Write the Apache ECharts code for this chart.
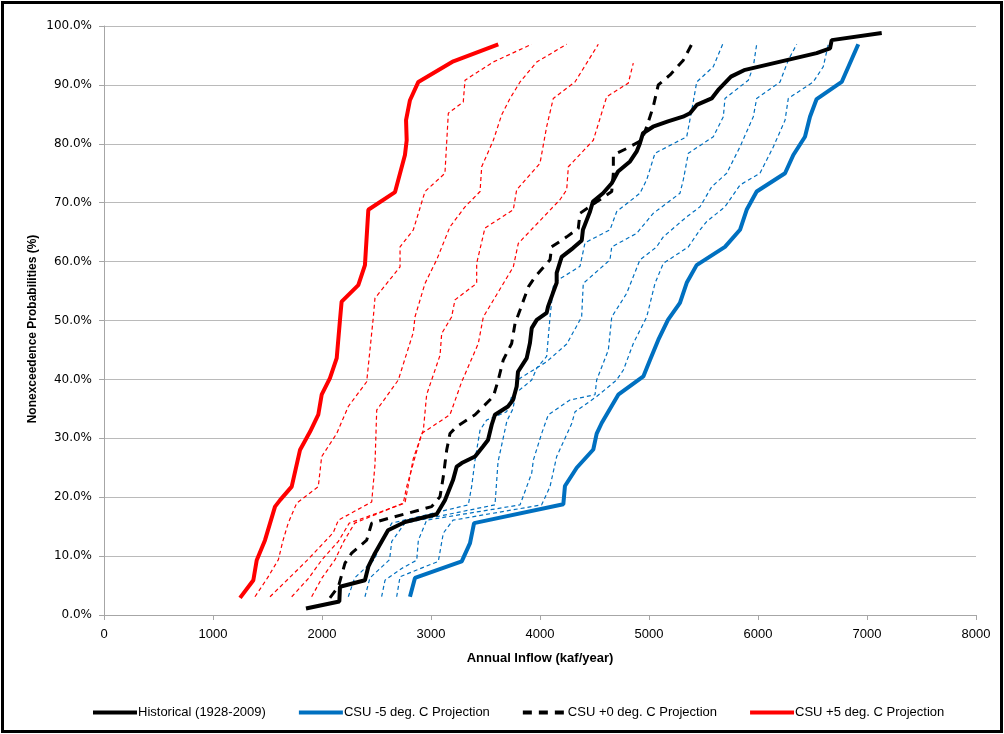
<!DOCTYPE html>
<html>
<head>
<meta charset="utf-8">
<script src="https://cdn.jsdelivr.net/npm/echarts@6/dist/echarts.min.js"></script>
<style>
html,body{margin:0;padding:0;background:#fff;}
#chart{width:1004px;height:734px;}
</style>
</head>
<body>
<div id="chart"></div>
<script>
// ---- data: [annual inflow (kaf/year), nonexceedence probability (%)] ----
const historical = [[1853,1.1],[2159,2.3],[2165,4.8],[2394,5.9],[2425,8.2],[2486,10.5],[2606,14.4],[2761,15.8],[3052,17.1],[3128,19.5],[3202,22.9],[3236,25.2],[3282,25.8],[3404,26.9],[3477,28.6],[3523,29.7],[3557,32.3],[3587,34.0],[3706,35.4],[3752,36.5],[3786,38.8],[3798,41.3],[3878,43.6],[3908,46.2],[3924,48.7],[3970,50.1],[4061,51.3],[4073,52.3],[4119,54.7],[4153,56.4],[4153,58.1],[4199,60.8],[4303,62.3],[4383,63.6],[4394,65.4],[4459,68.5],[4486,70.2],[4578,71.6],[4658,73.3],[4716,75.3],[4826,77.0],[4887,78.7],[4917,80.1],[4945,81.8],[5037,82.9],[5174,83.8],[5312,84.6],[5376,85.2],[5438,86.6],[5575,87.7],[5642,89.3],[5752,91.4],[5872,92.5],[6538,95.4],[6661,96.2],[6676,97.6],[7135,98.8]];
const csuMinus5 = [[2807,3.1],[2853,6.3],[3282,9.1],[3358,12.2],[3395,15.6],[4214,18.8],[4229,21.9],[4337,25.0],[4489,28.1],[4520,30.8],[4566,32.6],[4718,37.4],[4948,40.5],[5009,43.3],[5085,46.7],[5174,50.1],[5284,53.0],[5346,56.4],[5437,59.4],[5697,62.5],[5835,65.4],[5896,68.8],[5988,71.9],[6248,75.0],[6324,78.1],[6431,81.2],[6477,84.6],[6538,87.6],[6768,90.5],[6920,96.9]];
const csuPlus0 = [[2073,2.9],[2150,4.8],[2211,8.8],[2272,10.5],[2410,12.7],[2456,15.6],[2608,16.4],[2792,17.3],[3006,18.4],[3083,20.1],[3113,23.5],[3144,28.0],[3174,30.8],[3236,32.0],[3404,34.0],[3572,37.1],[3617,39.9],[3663,43.3],[3740,46.1],[3771,49.5],[3817,51.8],[3893,55.7],[3954,57.4],[4092,60.3],[4107,62.5],[4245,64.2],[4351,65.6],[4367,68.2],[4658,71.9],[4673,75.0],[4673,78.1],[4795,79.2],[4933,80.6],[4979,82.9],[5039,86.3],[5085,90.0],[5193,91.7],[5315,94.2],[5392,96.9]];
const csuPlus5 = [[1248,2.9],[1370,5.9],[1401,9.3],[1477,12.7],[1569,18.4],[1615,19.5],[1722,21.8],[1798,28.0],[1890,31.1],[1966,34.0],[1997,37.4],[2073,40.2],[2135,43.6],[2165,50.1],[2180,53.2],[2333,56.0],[2394,59.4],[2425,68.8],[2670,71.8],[2761,78.1],[2777,80.6],[2771,84.0],[2807,87.4],[2884,90.5],[3205,94.0],[3617,96.9]];
// intermediate warming projections (thin red dashed)
const csuPlus4 = [[1385,3.1],[1500,6.3],[1600,9.4],[1640,12.5],[1690,15.6],[1768,19.0],[1966,21.8],[1997,26.9],[2135,30.8],[2241,35.4],[2410,39.6],[2471,50.6],[2486,53.8],[2716,59.1],[2716,62.5],[2838,65.4],[2945,71.9],[3128,75.0],[3159,85.2],[3296,87.1],[3312,90.8],[3572,93.9],[3924,96.9]];
const csuPlus3 = [[1523,3.1],[1700,6.3],[1870,9.4],[2028,12.5],[2104,14.0],[2150,16.1],[2456,19.2],[2486,25.5],[2502,34.8],[2700,39.9],[2838,48.0],[2853,50.6],[2945,56.3],[3052,60.3],[3174,65.9],[3312,69.3],[3450,71.9],[3465,76.1],[3572,80.6],[3648,84.9],[3725,87.7],[3817,90.5],[3970,93.9],[4245,96.9]];
const csuPlus2 = [[1722,3.1],[1880,6.3],[2000,9.4],[2150,12.5],[2250,15.6],[2761,19.0],[2838,26.6],[2930,31.4],[2960,37.4],[3083,44.1],[3098,47.8],[3189,50.6],[3220,53.5],[3419,56.3],[3419,59.7],[3495,65.7],[3755,68.8],[3786,72.2],[4000,76.7],[4061,82.9],[4122,87.7],[4321,90.5],[4535,96.9]];
const csuPlus1 = [[1905,3.1],[2000,6.3],[2120,9.4],[2200,12.5],[2300,15.6],[2746,19.0],[2777,21.8],[2914,30.8],[3174,34.0],[3282,39.6],[3434,46.1],[3480,50.6],[3755,59.1],[3801,63.1],[4183,70.5],[4245,72.2],[4260,76.1],[4489,80.6],[4612,88.0],[4810,90.3],[4856,93.7]];
// intermediate cooling projections (thin blue dashed)
const csuMinus1 = [[2241,3.1],[2300,6.3],[2480,9.4],[2550,12.5],[2640,15.6],[3342,18.7],[3373,21.8],[3404,26.3],[3450,31.4],[3511,33.1],[3694,34.5],[3740,37.1],[3924,39.9],[3970,41.9],[4061,43.9],[4092,50.6],[4122,55.8],[4168,56.9],[4367,59.2],[4413,63.2],[4642,65.4],[4704,68.5],[4917,71.6],[4979,73.9],[5055,78.4],[5346,81.2],[5392,85.7],[5438,90.5],[5590,93.1],[5676,96.9]];
const csuMinus2 = [[2394,3.1],[2440,6.3],[2620,9.4],[2640,12.5],[2761,15.6],[3587,18.7],[3615,26.0],[3697,33.0],[3752,35.0],[3800,40.0],[4061,43.0],[4245,46.0],[4382,50.6],[4397,56.3],[4642,60.3],[4658,62.5],[4887,64.8],[5039,68.2],[5284,71.6],[5315,73.9],[5361,78.4],[5590,81.2],[5682,84.6],[5697,87.7],[5911,90.8],[5957,93.1],[5988,96.9]];
const csuMinus3 = [[2547,3.1],[2578,5.9],[2731,7.9],[2869,9.3],[2884,12.7],[2960,16.1],[3817,18.7],[3924,24.1],[3939,26.3],[4015,30.8],[4076,34.0],[4275,36.5],[4505,37.4],[4520,39.9],[4627,45.0],[4658,50.6],[4795,54.6],[4917,60.3],[5070,62.5],[5131,64.2],[5346,67.6],[5468,69.3],[5575,72.7],[5713,75.0],[5835,79.5],[5957,84.6],[5988,87.7],[6202,90.5],[6278,94.2],[6355,96.9]];
const csuMinus4 = [[2685,3.1],[2716,6.5],[3067,9.1],[3113,13.9],[3202,16.1],[4015,18.7],[4092,21.8],[4153,26.9],[4291,32.5],[4321,34.5],[4520,37.1],[4703,39.9],[4765,41.6],[4856,46.1],[4979,50.6],[5055,56.3],[5131,59.7],[5361,62.5],[5468,65.4],[5529,66.8],[5697,69.3],[5835,73.0],[6018,75.0],[6141,79.5],[6248,84.0],[6278,87.7],[6507,90.5],[6599,93.1],[6645,96.9]];

const legendNames = ['Historical (1928-2009)','CSU -5 deg. C Projection','CSU +0 deg. C Projection','CSU +5 deg. C Projection'];
const xAxisTitle = 'Annual Inflow (kaf/year)';
const yAxisTitle = 'Nonexceedence Probabilities (%)';

const chart = echarts.init(document.getElementById('chart'), null, {renderer:'canvas'});

function thin(name, data, color){
  return {name:name, type:'line', data:data, symbol:'none', silent:true,
    lineStyle:{color:color, width:1.2, type:[4,3]}, z:2};
}

const series = [
  thin('+4', csuPlus4, '#FF0000'),
  thin('+3', csuPlus3, '#FF0000'),
  thin('+2', csuPlus2, '#FF0000'),
  thin('+1', csuPlus1, '#FF0000'),
  thin('-1', csuMinus1, '#0070C0'),
  thin('-2', csuMinus2, '#0070C0'),
  thin('-3', csuMinus3, '#0070C0'),
  thin('-4', csuMinus4, '#0070C0'),
  {name:legendNames[2], type:'line', data:csuPlus0, symbol:'none',
    lineStyle:{color:'#000', width:3, type:[9,7]}, itemStyle:{color:'#000'}, z:3},
  {name:legendNames[1], type:'line', data:csuMinus5, symbol:'none',
    lineStyle:{color:'#0070C0', width:4}, itemStyle:{color:'#0070C0'}, z:4},
  {name:legendNames[0], type:'line', data:historical, symbol:'none',
    lineStyle:{color:'#000', width:4}, itemStyle:{color:'#000'}, z:5},
  {name:legendNames[3], type:'line', data:csuPlus5, symbol:'none',
    lineStyle:{color:'#FF0000', width:4}, itemStyle:{color:'#FF0000'}, z:6}
];

const titleFont = 'Liberation Sans Narrow, Liberation Sans, sans-serif';

chart.setOption({
  animation:false,
  backgroundColor:'#fff',
  grid:{left:104, right:28, top:26, bottom:119, containLabel:false},
  xAxis:{type:'value', min:0, max:8000, interval:1000,
    name:xAxisTitle, nameLocation:'middle', nameGap:37,
    nameTextStyle:{fontFamily:titleFont, fontWeight:'bold', fontSize:13, color:'#000'},
    axisLine:{show:true, lineStyle:{color:'#a6a6a6'}},
    axisTick:{show:true, length:5, lineStyle:{color:'#a6a6a6'}},
    axisLabel:{fontFamily:titleFont, fontSize:13, color:'#000', margin:13,
      formatter:function(v){return String(v);}},
    splitLine:{show:false}},
  yAxis:{type:'value', min:0, max:100, interval:10,
    axisLine:{show:true, lineStyle:{color:'#a6a6a6'}},
    axisTick:{show:true, length:5, lineStyle:{color:'#a6a6a6'}},
    axisLabel:{fontFamily:'DejaVu Sans, sans-serif', fontSize:12, color:'#000', margin:12,
      formatter:function(v){return v.toFixed(1)+'%';}},
    splitLine:{show:true, lineStyle:{color:'#bababa', width:1}}},
  legend:{data:legendNames, left:86, top:701, itemWidth:44, itemHeight:10, itemGap:31,
    itemStyle:{opacity:0},
    lineStyle:{width:4},
    textStyle:{fontFamily:titleFont, fontSize:13, color:'#000', padding:[0,0,0,-4]}},
  graphic:[
    {type:'text', x:33, y:329, rotation:Math.PI/2,
      style:{text:yAxisTitle, fontFamily:titleFont, fontWeight:'bold', fontSize:12, fill:'#000', align:'center', verticalAlign:'middle'}},
    {type:'rect', shape:{x:2.5,y:2.5,width:999,height:729}, style:{fill:null, stroke:'#000', lineWidth:3}, z:100}
  ],
  series:series
});
</script>
</body>
</html>
